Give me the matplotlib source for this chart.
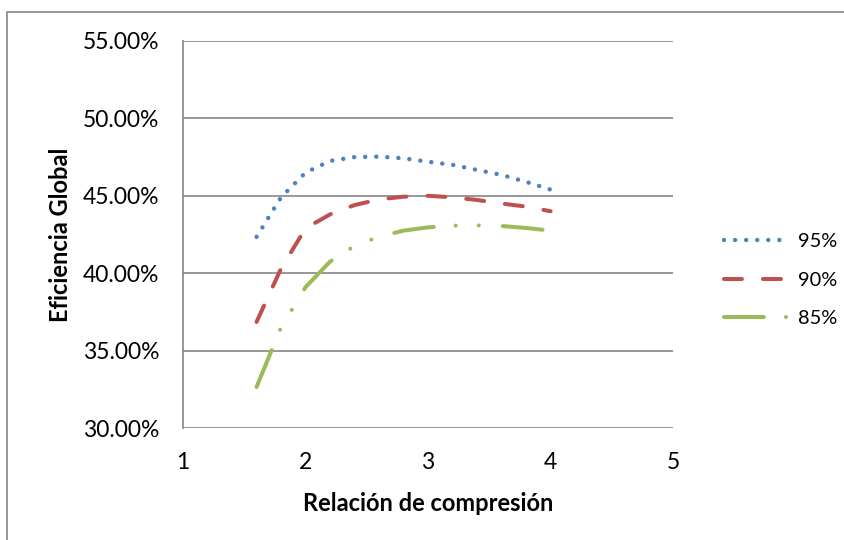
import matplotlib.pyplot as plt
from matplotlib.patches import Rectangle
from matplotlib.ticker import FuncFormatter

plt.rcParams['font.family'] = ['Lato', 'DejaVu Sans']

# compression ratio
relacion = [1.6, 1.8, 2.0, 2.2, 2.4, 2.6, 2.8, 3.0, 3.2, 3.4, 3.6, 3.8, 4.0]
# global efficiency (%), one series per component efficiency
ef_95 = [42.35, 44.9, 46.5, 47.25, 47.5, 47.53, 47.42, 47.2, 47.0, 46.67, 46.35, 45.9, 45.4]
ef_90 = [36.85, 40.3, 42.9, 43.8, 44.4, 44.77, 44.94, 45.0, 44.9, 44.73, 44.5, 44.3, 44.0]
ef_85 = [32.65, 36.5, 39.1, 40.75, 41.76, 42.36, 42.75, 42.96, 43.07, 43.09, 43.05, 42.92, 42.75]
etiquetas = ['95%', '90%', '85%']

fig = plt.figure(figsize=(8.45, 5.4), dpi=100)
ax = fig.add_axes([0.2166, 0.2074, 0.58, 0.7167])

# outer chart frame (Excel style)
fig.patches.append(Rectangle((7 / 845, -0.05), 1.1, 1 - 12 / 540 + 0.05,
                             transform=fig.transFigure, fill=False,
                             edgecolor='#868686', linewidth=1.2))

lw = 2.9
ax.plot(relacion, ef_95, color='#4F81BD', lw=3.2, dashes=[0.01, 2.48],
        dash_capstyle='round', label=etiquetas[0])
ax.plot(relacion, ef_90, color='#C0504D', lw=lw, dashes=[4.46, 5.22],
        dash_capstyle='round', label=etiquetas[1])
ax.plot(relacion, ef_85, color='#9BBB59', lw=lw, dashes=[9.9, 5.47, 0.01, 5.71, 0.01, 5.96],
        dash_capstyle='round', label=etiquetas[2])

ax.set_xlim(1, 5)
ax.set_ylim(30, 55)
ax.set_xticks([1, 2, 3, 4, 5])
ax.set_yticks([30, 35, 40, 45, 50, 55])
ax.yaxis.set_major_formatter(FuncFormatter(lambda v, p: f"{v:.2f}%"))

ax.yaxis.grid(True, color='#868686', lw=1.2)
ax.set_axisbelow(True)
for s in ['top', 'right', 'bottom']:
    ax.spines[s].set_visible(False)
ax.spines['left'].set_color('#868686')
ax.spines['left'].set_linewidth(1.2)
ax.tick_params(axis='both', length=0, labelsize=16.5, colors='black')
ax.tick_params(axis='y', pad=17)
ax.tick_params(axis='x', pad=17)

ax.set_xlabel('Relación de compresión', fontsize=17, fontweight='bold', labelpad=14)
ax.set_ylabel('Eficiencia Global', fontsize=17, fontweight='bold', labelpad=8)

leg = ax.legend(loc='center left', bbox_to_anchor=(1.068, 0.382), frameon=False,
                fontsize=14.4, handlelength=3.15, labelspacing=1.08, handletextpad=0.55)

fig.savefig('out.png', dpi=100)
